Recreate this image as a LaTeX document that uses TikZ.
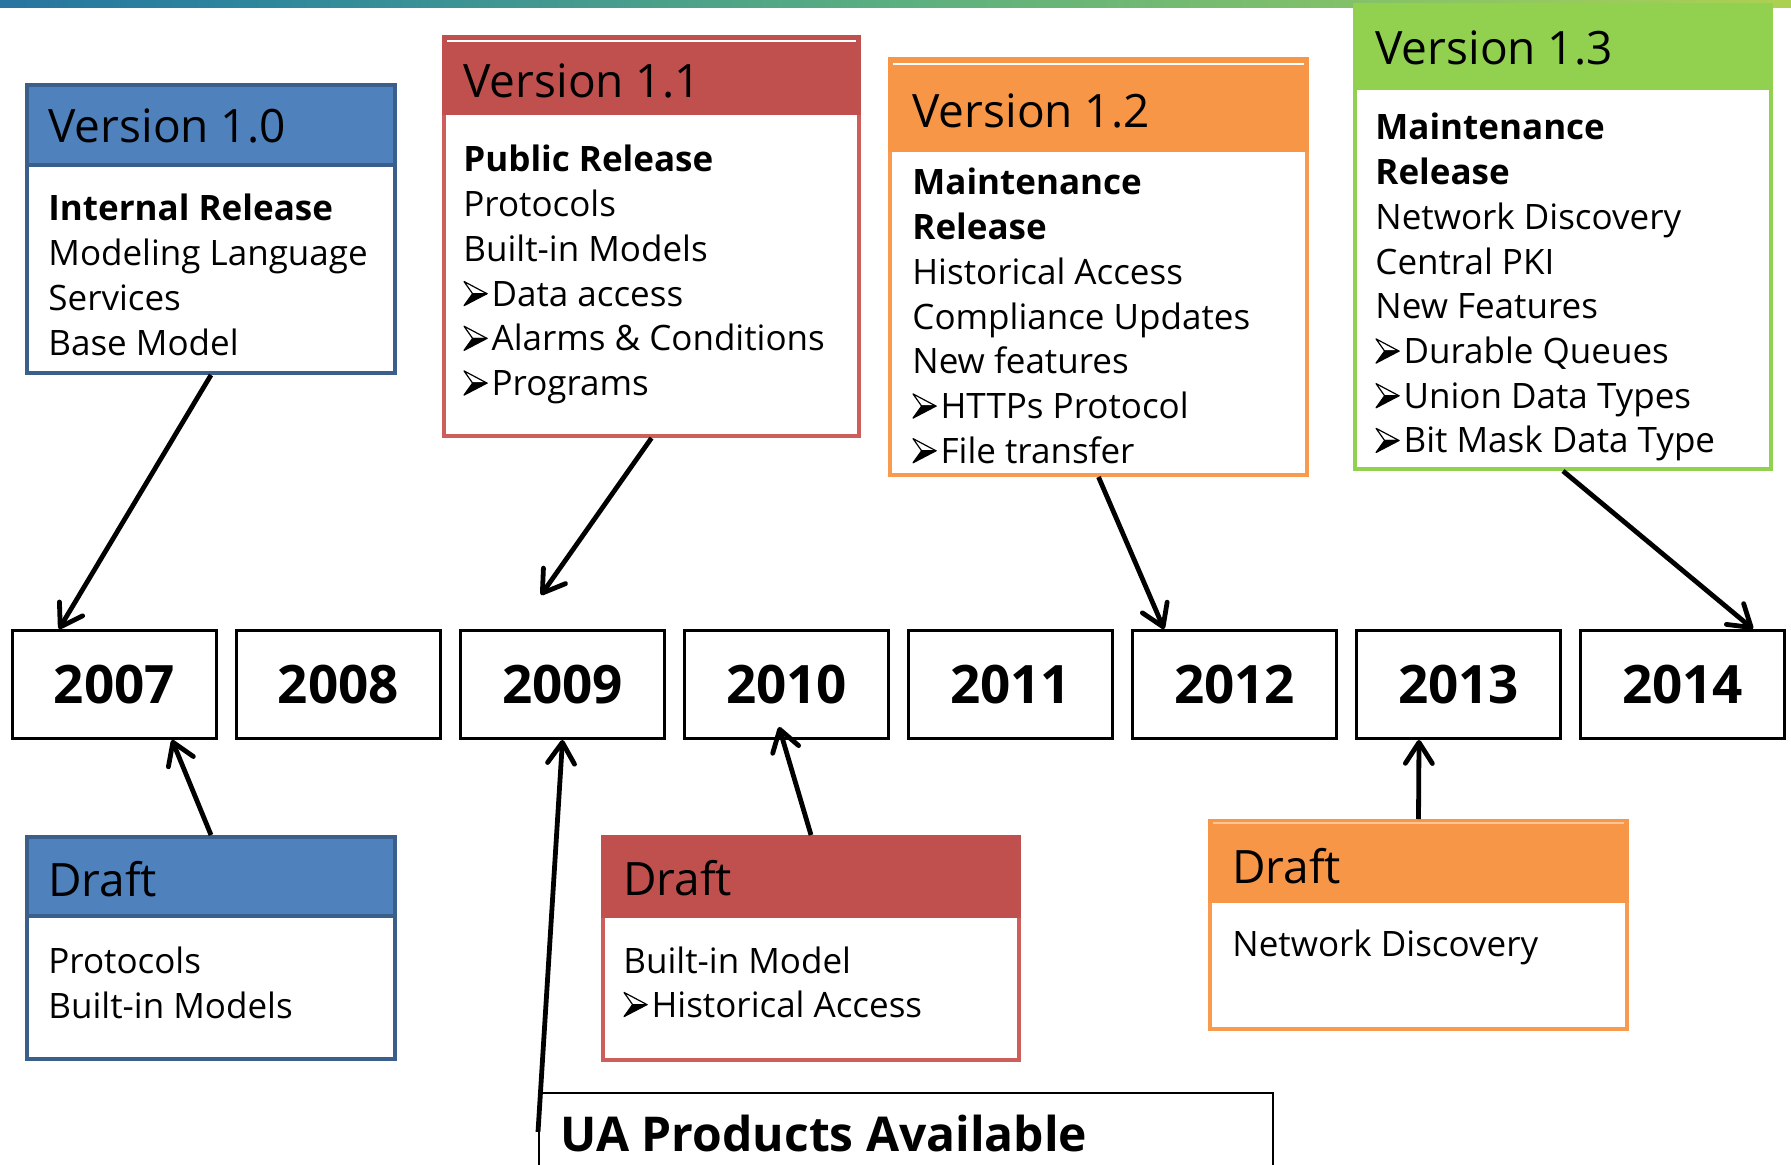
\documentclass[tikz,border=0pt]{standalone}
\usepackage{fontspec}
\setmainfont{Open Sans}
\usetikzlibrary{arrows.meta,calc}

% panel colour schemes: F = header fill, D = body border, H = header outline
\definecolor{blueF}{HTML}{4F81BD}
\definecolor{blueD}{HTML}{3A5F8B}
\colorlet{blueH}{blueD}
\definecolor{redF}{HTML}{C0504D}
\definecolor{redD}{HTML}{CD5E5B}
\colorlet{redH}{redF}
\definecolor{orgF}{HTML}{F79646}
\definecolor{orgD}{HTML}{F89B4E}
\colorlet{orgH}{orgF}
\definecolor{grnF}{HTML}{92D050}
\definecolor{grnD}{HTML}{92D050}
\colorlet{grnH}{grnF}

% gradient strip along the top edge
\definecolor{barA}{HTML}{1C4A9C}
\definecolor{barB}{HTML}{2166A3}
\definecolor{barC}{HTML}{2E869D}
\definecolor{barD}{HTML}{5BAF80}
\definecolor{barE}{HTML}{9ACB5C}
\definecolor{barF}{HTML}{CCD940}
\definecolor{barG}{HTML}{F0E21E}
\definecolor{barH}{HTML}{F5E61A}
\pgfdeclarehorizontalshading{topbar}{100bp}{color(0bp)=(barA); color(19bp)=(barB); color(32bp)=(barC); color(50bp)=(barD); color(70bp)=(barE); color(83bp)=(barF); color(92bp)=(barG); color(100bp)=(barH)}

\tikzset{
  panelbody/.style={rectangle, line width=2pt, fill=white, inner sep=0pt},
  headtxt/.style={anchor=base west, inner sep=0pt, font=\fontsize{23}{27}\selectfont},
  bodytxt/.style={anchor=base west, inner sep=0pt, font=\fontsize{17.5}{21}\selectfont},
  yearbox/.style={rectangle, draw, line width=1.5pt, minimum width=102pt, minimum height=54pt,
    inner sep=0pt, font=\fontsize{26.5}{30}\selectfont\bfseries},
  uabox/.style={rectangle, draw, line width=1pt, inner sep=0pt},
  uatxt/.style={anchor=base west, inner sep=0pt, font=\fontsize{24}{28}\selectfont\bfseries},
  conn/.style={line width=2.4pt, -{Straight Barb[length=10.5pt,width=13.5pt,round]}},
}

% three-dimensional arrowhead bullet: open upper half, solid lower half
\newcommand\bul{\tikz[baseline=0pt,x=1pt,y=1pt,line width=0.6pt,line join=round]{%
  \filldraw[fill=white] (0.3,12.3) -- (11.8,6.2) -- (4.6,6.2) -- cycle;
  \filldraw[fill=black] (0.3,0.2) -- (11.8,6.2) -- (4.6,6.2) -- cycle;}\hspace{2pt}}

% name, x1, y1, x2, y2, header bottom, colour scheme
\newcommand\panel[7]{%
  \node[panelbody, draw=#7D, minimum width={(#4-#2-4)*0.5pt}, minimum height={(#5-#3-4)*0.5pt}]
    (#1) at ({(#2+#4)/2},{(#3+#5)/2}) {};
  \path[fill=#7F, draw=#7H, line width=2pt] ({#2+2},{#3+2}) rectangle ({#4-2},{#6-2});
}

% name, x, first baseline, line step, lines
\newcommand\lines[5]{%
  \foreach \itm [count=\i from 0] in {#5}
    \node[bodytxt] (#1-\i) at (#2,{#3+#4*\i}) {\itm};
}

\begin{document}
\begin{tikzpicture}[x=0.5pt,y=-0.5pt]
\useasboundingbox (0,0) rectangle (1791,1165);
\clip (0,0) rectangle (1791,1165);

\shade[shading=topbar] (0,0) rectangle (1791,8);

% release panels
\panel{v10}{25}{83}{397}{375}{167}{blue}
\panel{v11}{442}{35}{861}{438}{115}{red}
\panel{v12}{888}{57}{1309}{477}{152}{org}
\panel{v13}{1353}{3}{1773}{471}{90}{grn}
\draw[white, line width=1.4pt] (447,41) -- (856,41);
\draw[white, line width=1.4pt] (893,64) -- (1304,64);

% draft panels
\panel{d07}{25}{835}{397}{1061}{918}{blue}
\panel{d10}{601}{835}{1021}{1062}{918}{red}
\panel{d13}{1208}{819}{1629}{1031}{903}{org}
\draw[white, opacity=0.45, line width=0.6pt] (1213,823) -- (1624,823);

% headings
\node[headtxt] (v10-t) at (48,143) {Version 1.0};
\node[headtxt] (v11-t) at (463,98) {Version 1.1};
\node[headtxt] (v12-t) at (912,128) {Version 1.2};
\node[headtxt] (v13-t) at (1375,65) {Version 1.3};
\node[headtxt] (d07-t) at (48,896) {Draft};
\node[headtxt] (d10-t) at (623,895) {Draft};
\node[headtxt] (d13-t) at (1232,883) {Draft};

% panel contents
\lines{v10l}{48}{221}{44.7}{\textbf{Internal Release}, Modeling Language, Services, Base Model}
\lines{v11l}{463}{172}{44.7}{\textbf{Public Release}, Protocols, Built-in Models, \bul Data access, \bul Alarms \& Conditions, \bul Programs}
\lines{v12l}{912}{195}{44.7}{\textbf{Maintenance}, \textbf{Release}, Historical Access, Compliance Updates, New features, \bul HTTPs Protocol, \bul File transfer}
\lines{v13l}{1375}{140}{44.7}{\textbf{Maintenance}, \textbf{Release}, Network Discovery, Central PKI, New Features, \bul Durable Queues, \bul Union Data Types, \bul Bit Mask Data Type}
\lines{d07l}{48}{973}{45}{Protocols, Built-in Models}
\lines{d10l}{623}{973}{44}{Built-in Model, \bul Historical Access}
\lines{d13l}{1232}{956}{45}{Network Discovery}

% timeline
\foreach \yr [count=\i from 0] in {2007,2008,2009,2010,2011,2012,2013,2014}
  \node[yearbox] (y\yr) at ({114.5+224*\i},684.5) {\yr};

% products box
\node[uabox, minimum width=367pt, minimum height=70pt] (ua) at (906,1163) {};
\node[uatxt] (ua-t) at (560,1151) {UA Products Available};

% connectors
\coordinate (c09) at (541,595);
\coordinate (uaTail) at (538,1132);
\draw[conn] (v10.south) -- ($(y2007.north west)+(48,0)$);
\draw[conn] (v11.south) -- (c09);
\draw[conn] (v12.south) -- ($(y2012.north west)+(33,0)$);
\draw[conn] (v13.south) -- ($(y2014.north west)+(174,0)$);
\draw[conn] (d07.north) -- ($(y2007.south west)+(161,0)$);
\draw[conn] (uaTail) -- (y2009.south);
\draw[conn] (d10.north) -- ($(y2010.south west)+(96,-13)$);
\draw[conn] (d13.north) -- ($(y2013.south west)+(64,0)$);
\end{tikzpicture}
\end{document}
